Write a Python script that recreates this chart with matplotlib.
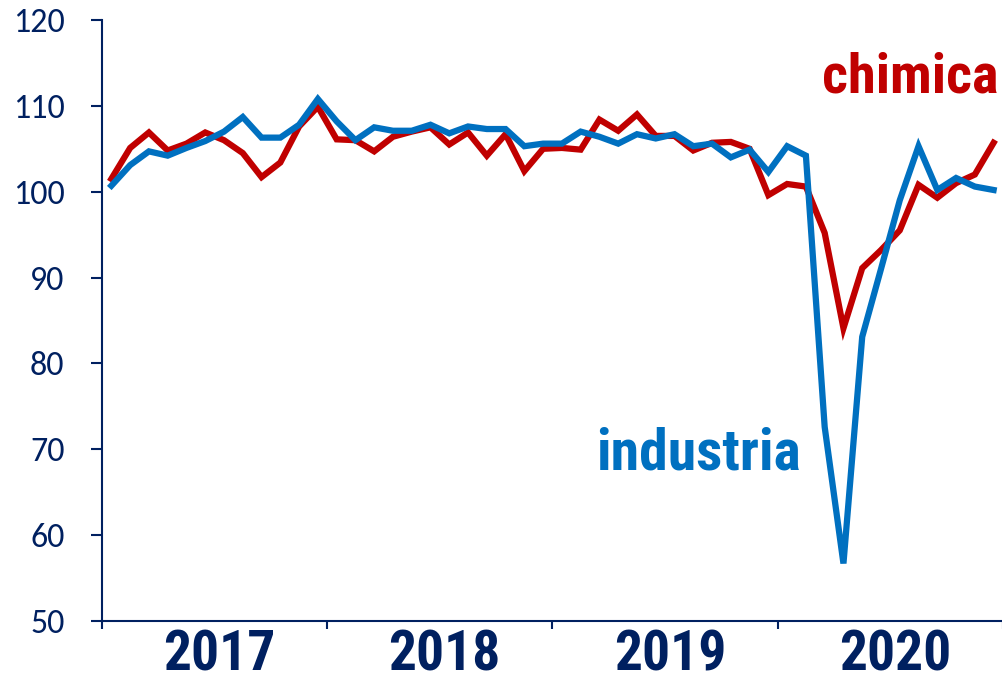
import numpy as np
import matplotlib
matplotlib.use("Agg")
import matplotlib.pyplot as plt

# monthly index, Jan 2017 - Dec 2020
years = ["2017", "2018", "2019", "2020"]
chimica = [101.5, 105.1, 106.9, 104.8, 105.6, 106.9, 106.0, 104.5, 101.7, 103.4, 107.6, 109.9,
           106.1, 106.0, 104.7, 106.4, 107.0, 107.5, 105.5, 106.9, 104.2, 106.7, 102.4, 105.0,
           105.1, 104.9, 108.4, 107.1, 109.0, 106.5, 106.5, 104.8, 105.7, 105.8, 105.0, 99.6,
           100.9, 100.6, 95.2, 84.1, 91.1, 93.2, 95.5, 100.8, 99.3, 101.0, 102.0, 105.7]
industria = [100.7, 103.1, 104.7, 104.2, 105.1, 105.9, 107.0, 108.7, 106.3, 106.3, 107.8, 110.8,
             108.2, 106.0, 107.5, 107.1, 107.1, 107.8, 106.8, 107.6, 107.3, 107.3, 105.3, 105.6,
             105.6, 107.0, 106.4, 105.6, 106.7, 106.2, 106.7, 105.3, 105.6, 104.0, 104.9, 102.3,
             105.3, 104.2, 72.6, 56.7, 83.1, 91.0, 99.0, 105.3, 100.2, 101.6, 100.6, 100.2]

red = "#C00000"
blue = "#0070C0"
navy = "#002060"
narrow = ["Roboto Condensed", "PT Sans Narrow", "DejaVu Sans"]

x = np.arange(len(chimica)) + 0.5

fig = plt.figure(figsize=(10.03, 6.86), dpi=100)
ax = fig.add_axes([102 / 1003, 1 - 621 / 686, 1 - 102 / 1003, (621 - 20) / 686])

ax.plot(x, chimica, color=red, lw=4.5, solid_joinstyle="miter", zorder=3)
ax.plot(x, industria, color=blue, lw=4.5, solid_joinstyle="miter", zorder=4)

ax.set_xlim(0, 47.8)
ax.set_ylim(50, 120)

for s in ["top", "right"]:
    ax.spines[s].set_visible(False)
for s in ["left", "bottom"]:
    ax.spines[s].set_color(navy)
    ax.spines[s].set_linewidth(1.5)

ax.set_yticks(np.arange(50, 121, 10))
ax.tick_params(axis="y", length=8, width=1.5, color=navy, labelcolor=navy,
               labelsize=24.5, pad=19)
for lab in ax.get_yticklabels():
    lab.set_fontfamily(["Carlito", "DejaVu Sans"])

ax.set_xticks([0, 12, 24, 36, 48])
ax.set_xticklabels([])
ax.tick_params(axis="x", which="major", length=6, width=1.5, color=navy)
ax.set_xticks([6.25, 18.25, 30.25, 42.25], minor=True)
ax.set_xticklabels(years, minor=True)
ax.tick_params(axis="x", which="minor", length=0, labelcolor=navy, labelsize=40, pad=6)
for lab in ax.get_xticklabels(minor=True):
    lab.set_fontfamily(narrow)
    lab.set_fontweight("bold")
    lab.set_fontstretch("condensed")

ax.text(47.75, 111.5, "chimica", color=red, fontsize=40.5, fontweight="bold",
        fontstretch="condensed", family=narrow, ha="right", va="baseline")
ax.text(26.3, 67.7, "industria", color=blue, fontsize=41.5, fontweight="bold",
        fontstretch="condensed", family=narrow, ha="left", va="baseline")

fig.savefig("out.png", dpi=100)
